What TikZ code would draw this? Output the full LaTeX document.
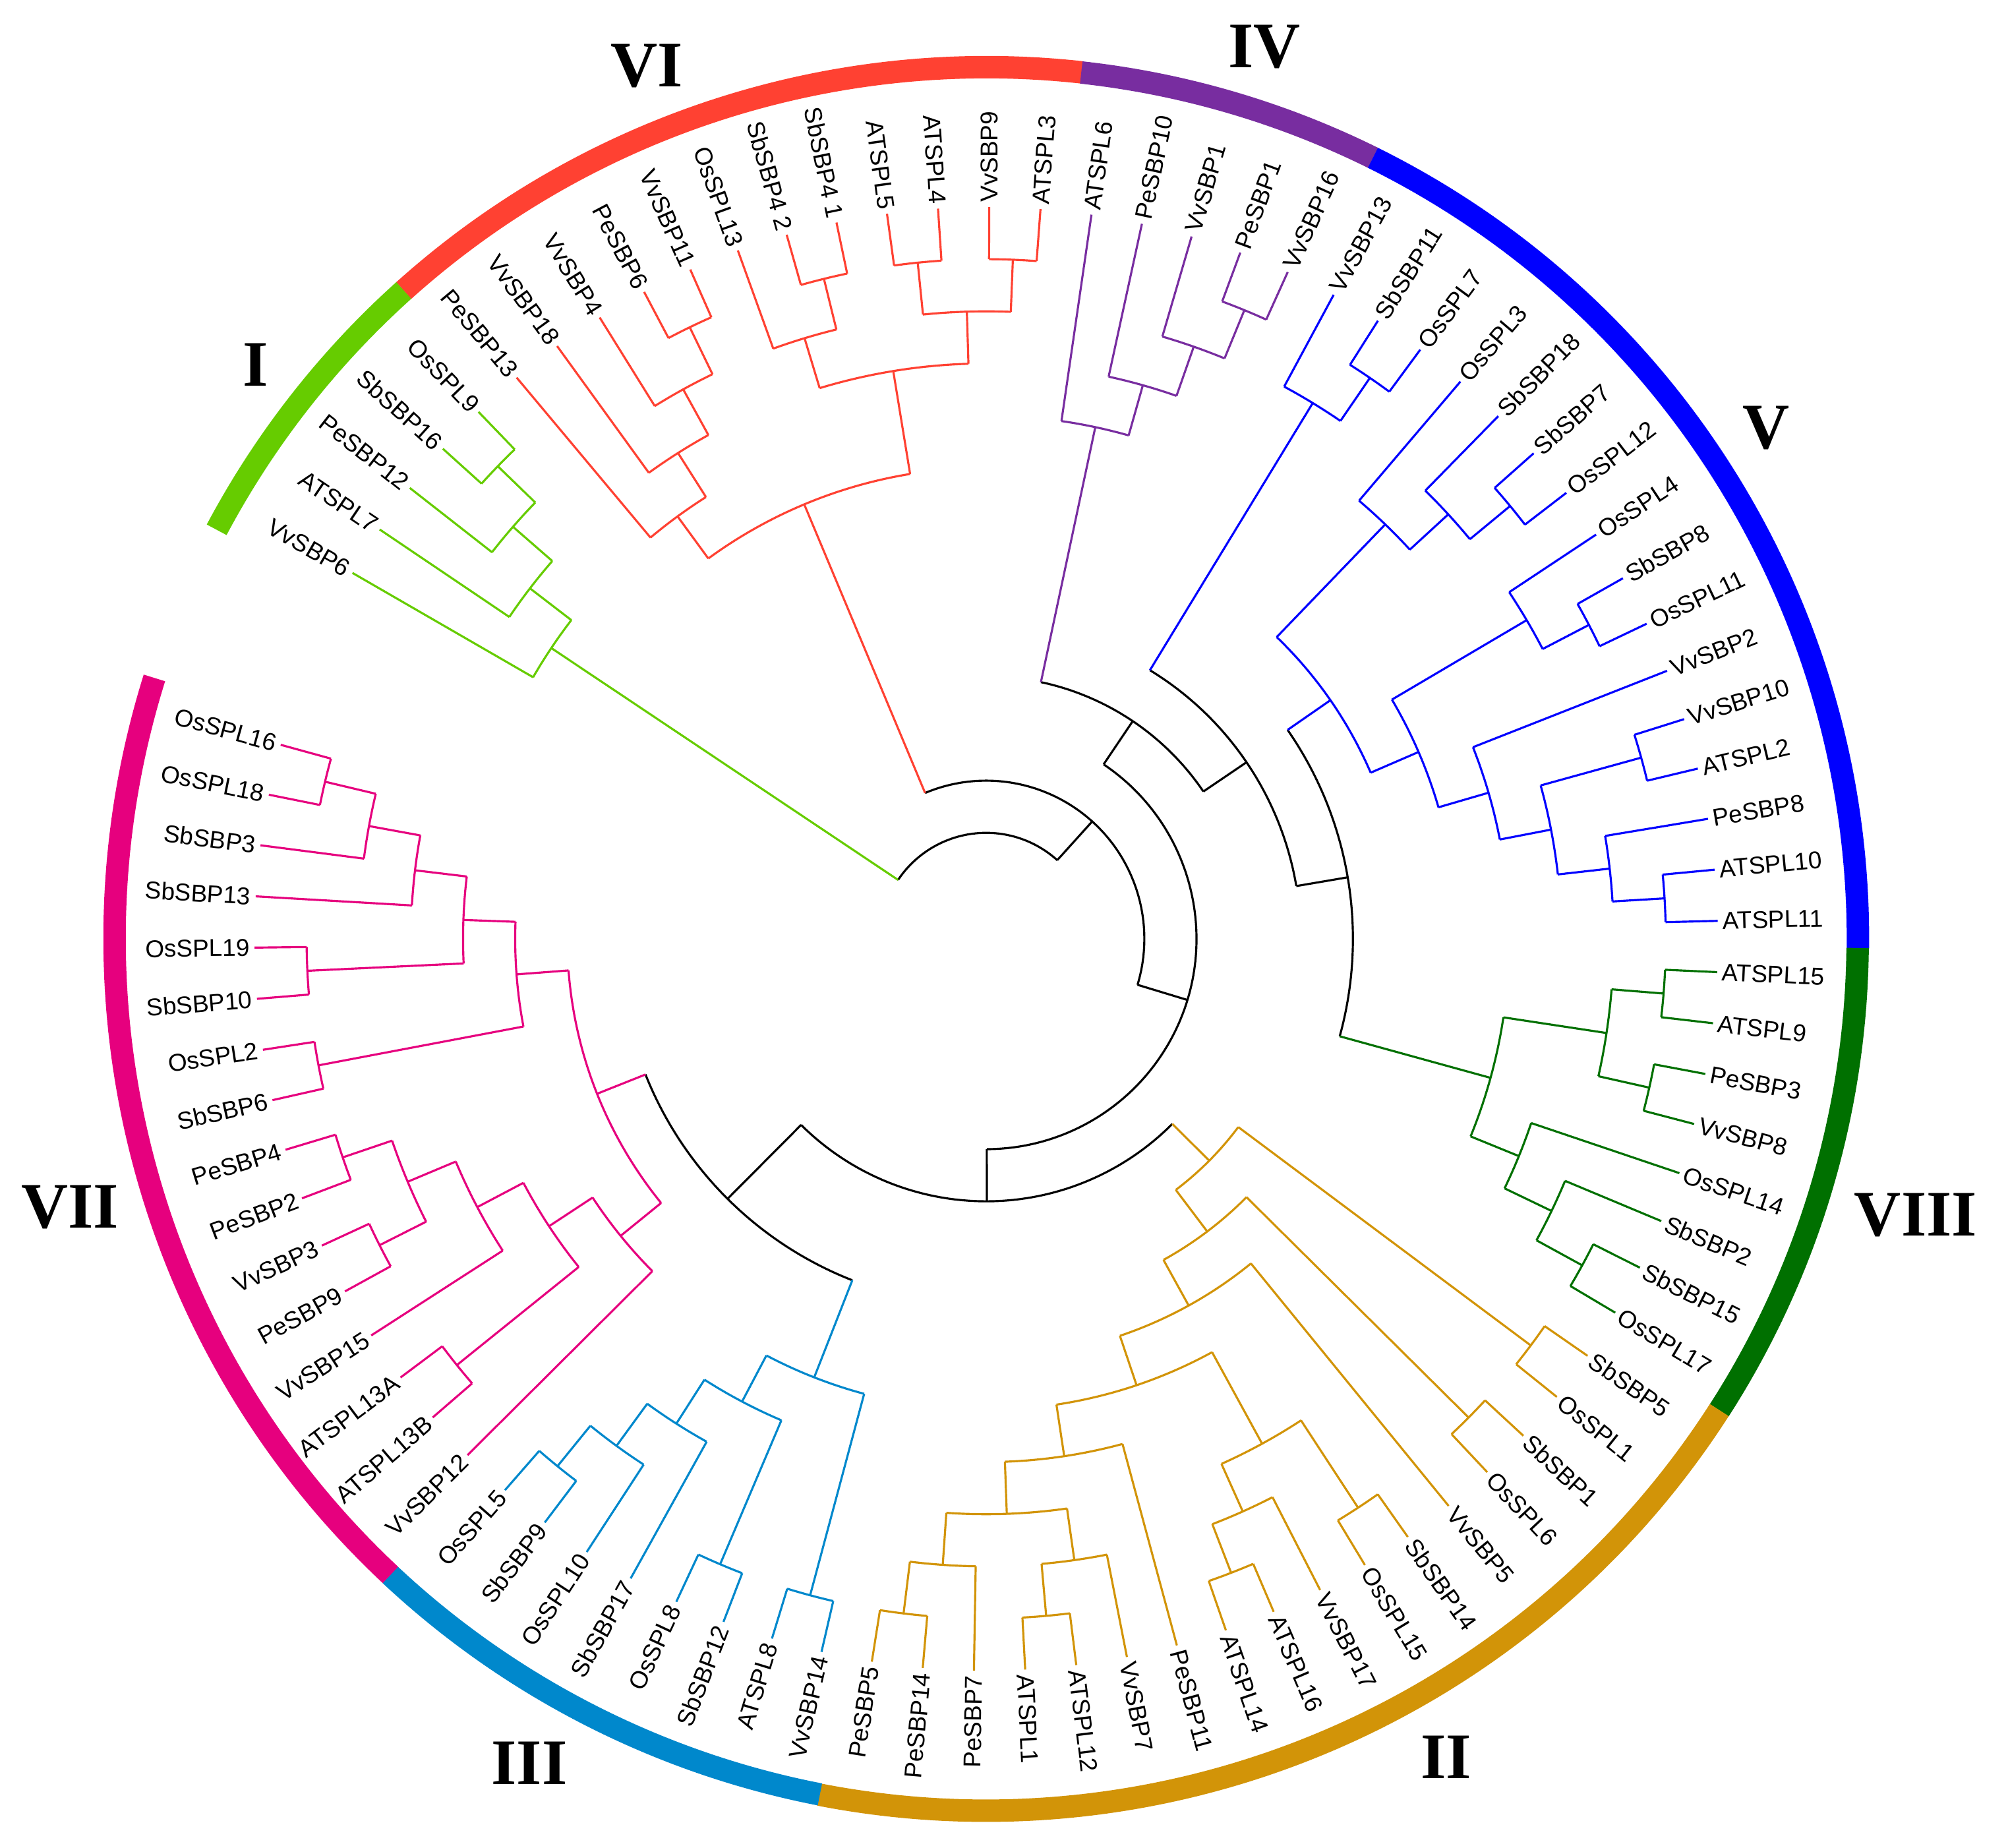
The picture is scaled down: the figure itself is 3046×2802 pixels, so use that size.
\documentclass[tikz,border=0pt]{standalone}
\usepackage{fontspec}
\setmainfont{Liberation Sans}
\newfontfamily\numfont{Liberation Serif}
\definecolor{cI}{RGB}{102,204,0}
\definecolor{cVI}{RGB}{255,65,50}
\definecolor{cIV}{RGB}{120,45,160}
\definecolor{cV}{RGB}{0,0,255}
\definecolor{cVIII}{RGB}{0,112,0}
\definecolor{cII}{RGB}{210,148,8}
\definecolor{cIII}{RGB}{0,136,204}
\definecolor{cVII}{RGB}{230,0,126}
\tikzset{
  tiplabel/.style={inner sep=0pt,font=\fontsize{10.5}{12}\selectfont},
  branch/.style={line width=0.9pt},
  ring/.style={line width=0.34cm},
  cladename/.style={inner sep=0pt,font=\numfont\bfseries\fontsize{28}{30}\selectfont}
}
\newcommand\tipr{1110}
\newcommand\labr{1117}
\newcommand\tstep{79.1}
% leaf: index, name, text, colour
\newcommand\tleafx[4]{%
  \pgfmathsetmacro\la{150-4.016*#1}%
  \expandafter\xdef\csname ang#2\endcsname{\la}%
  \expandafter\xdef\csname hgt#2\endcsname{0}%
  \expandafter\xdef\csname col#2\endcsname{#4}%
  \coordinate (#2) at (\la:\tipr);%
  \pgfmathtruncatemacro\rside{cos(\la)>0}%
  \ifnum\rside=1
    \node[tiplabel,anchor=west,rotate=\la] (#2-l) at (\la:\labr) {#3};%
  \else
    \pgfmathsetmacro\lb{\la+180}%
    \node[tiplabel,anchor=east,rotate=\lb] (#2-l) at (\la:\labr) {#3};%
  \fi}
\newcommand\tleaf[3]{\tleafx{#1}{#2}{#2}{#3}}
% inner node: name, first child, last child, colour
\newcommand\tclade[4]{%
  \edef\ca{\csname ang#2\endcsname}\edef\cb{\csname ang#3\endcsname}%
  \edef\ha{\csname hgt#2\endcsname}\edef\hb{\csname hgt#3\endcsname}%
  \edef\ka{\csname col#2\endcsname}\edef\kb{\csname col#3\endcsname}%
  \pgfmathtruncatemacro\nh{max(\ha,\hb)+1}%
  \pgfmathsetmacro\na{(\ca+\cb)/2}%
  \pgfmathsetmacro\nr{\tipr-\tstep*\nh}%
  \expandafter\xdef\csname ang#1\endcsname{\na}%
  \expandafter\xdef\csname hgt#1\endcsname{\nh}%
  \expandafter\xdef\csname col#1\endcsname{#4}%
  \coordinate (#1) at (\na:\nr);%
  \draw[branch,draw=#4] (\ca:\nr) arc[start angle=\ca,end angle=\cb,radius=\nr*0.01cm];%
  \draw[branch,draw=\ka] (\ca:\nr) -- (#2);%
  \draw[branch,draw=\kb] (\cb:\nr) -- (#3);}

\begin{document}
\begin{tikzpicture}[x=0.01cm,y=0.01cm]
\useasboundingbox (-1496,-1378) rectangle (1550,1424);

\foreach \s/\e/\c in {0/5/cI,5/17/cVI,17/22/cIV,22/38/cV,38/46/cVIII,46/63/cII,63/71/cIII,71/87/cVII}{
  \pgfmathsetmacro\ra{150-4.016*(\s-0.5)}
  \pgfmathsetmacro\rb{150-4.016*(\e-0.5)}
  \draw[ring,draw=\c] (\ra:1322) arc[start angle=\ra,end angle=\rb,radius=13.22cm];
}

\node[cladename] (lI) at (-1108,871) {I};
\node[cladename] (lVI) at (-515,1324) {VI};
\node[cladename] (lIV) at (422,1353) {IV};
\node[cladename] (lV) at (1183,775) {V};
\node[cladename] (lVIII) at (1410,-419) {VIII};
\node[cladename] (lII) at (698,-1241) {II};
\node[cladename] (lIII) at (-693,-1250) {III};
\node[cladename] (lVII) at (-1390,-407) {VII};

\tleaf{0}{VvSBP6}{cI} \tleaf{1}{ATSPL7}{cI} \tleaf{2}{PeSBP12}{cI}
\tleaf{3}{SbSBP16}{cI} \tleaf{4}{OsSPL9}{cI}

\tleaf{5}{PeSBP13}{cVI} \tleaf{6}{VvSBP18}{cVI} \tleaf{7}{VvSBP4}{cVI}
\tleaf{8}{PeSBP6}{cVI} \tleaf{9}{VvSBP11}{cVI} \tleaf{10}{OsSPL13}{cVI}
\tleafx{11}{SbSBP4-2}{SbSBP4 2}{cVI} \tleafx{12}{SbSBP4-1}{SbSBP4 1}{cVI}
\tleaf{13}{ATSPL5}{cVI} \tleaf{14}{ATSPL4}{cVI} \tleaf{15}{VvSBP9}{cVI}
\tleaf{16}{ATSPL3}{cVI}

\tleaf{17}{ATSPL6}{cIV} \tleaf{18}{PeSBP10}{cIV} \tleaf{19}{VvSBP1}{cIV}
\tleaf{20}{PeSBP1}{cIV} \tleaf{21}{VvSBP16}{cIV}

\tleaf{22}{VvSBP13}{cV} \tleaf{23}{SbSBP11}{cV} \tleaf{24}{OsSPL7}{cV}
\tleaf{25}{OsSPL3}{cV} \tleaf{26}{SbSBP18}{cV} \tleaf{27}{SbSBP7}{cV}
\tleaf{28}{OsSPL12}{cV} \tleaf{29}{OsSPL4}{cV} \tleaf{30}{SbSBP8}{cV}
\tleaf{31}{OsSPL11}{cV} \tleaf{32}{VvSBP2}{cV} \tleaf{33}{VvSBP10}{cV}
\tleaf{34}{ATSPL2}{cV} \tleaf{35}{PeSBP8}{cV} \tleaf{36}{ATSPL10}{cV}
\tleaf{37}{ATSPL11}{cV}

\tleaf{38}{ATSPL15}{cVIII} \tleaf{39}{ATSPL9}{cVIII} \tleaf{40}{PeSBP3}{cVIII}
\tleaf{41}{VvSBP8}{cVIII} \tleaf{42}{OsSPL14}{cVIII} \tleaf{43}{SbSBP2}{cVIII}
\tleaf{44}{SbSBP15}{cVIII} \tleaf{45}{OsSPL17}{cVIII}

\tleaf{46}{SbSBP5}{cII} \tleaf{47}{OsSPL1}{cII} \tleaf{48}{SbSBP1}{cII}
\tleaf{49}{OsSPL6}{cII} \tleaf{50}{VvSBP5}{cII} \tleaf{51}{SbSBP14}{cII}
\tleaf{52}{OsSPL15}{cII} \tleaf{53}{VvSBP17}{cII} \tleaf{54}{ATSPL16}{cII}
\tleaf{55}{ATSPL14}{cII} \tleaf{56}{PeSBP11}{cII} \tleaf{57}{VvSBP7}{cII}
\tleaf{58}{ATSPL12}{cII} \tleaf{59}{ATSPL1}{cII} \tleaf{60}{PeSBP7}{cII}
\tleaf{61}{PeSBP14}{cII} \tleaf{62}{PeSBP5}{cII}

\tleaf{63}{VvSBP14}{cIII} \tleaf{64}{ATSPL8}{cIII} \tleaf{65}{SbSBP12}{cIII}
\tleaf{66}{OsSPL8}{cIII} \tleaf{67}{SbSBP17}{cIII} \tleaf{68}{OsSPL10}{cIII}
\tleaf{69}{SbSBP9}{cIII} \tleaf{70}{OsSPL5}{cIII}

\tleaf{71}{VvSBP12}{cVII} \tleaf{72}{ATSPL13B}{cVII} \tleaf{73}{ATSPL13A}{cVII}
\tleaf{74}{VvSBP15}{cVII} \tleaf{75}{PeSBP9}{cVII} \tleaf{76}{VvSBP3}{cVII}
\tleaf{77}{PeSBP2}{cVII} \tleaf{78}{PeSBP4}{cVII} \tleaf{79}{SbSBP6}{cVII}
\tleaf{80}{OsSPL2}{cVII} \tleaf{81}{SbSBP10}{cVII} \tleaf{82}{OsSPL19}{cVII}
\tleaf{83}{SbSBP13}{cVII} \tleaf{84}{SbSBP3}{cVII} \tleaf{85}{OsSPL18}{cVII}
\tleaf{86}{OsSPL16}{cVII}

\tclade{I1}{SbSBP16}{OsSPL9}{cI}
\tclade{I2}{PeSBP12}{I1}{cI}
\tclade{I3}{ATSPL7}{I2}{cI}
\tclade{I4}{VvSBP6}{I3}{cI}

\tclade{V1}{PeSBP6}{VvSBP11}{cVI}
\tclade{V2}{VvSBP4}{V1}{cVI}
\tclade{V3}{VvSBP18}{V2}{cVI}
\tclade{V4}{PeSBP13}{V3}{cVI}
\tclade{V5}{SbSBP4-2}{SbSBP4-1}{cVI}
\tclade{V6}{OsSPL13}{V5}{cVI}
\tclade{V7}{ATSPL5}{ATSPL4}{cVI}
\tclade{V8}{VvSBP9}{ATSPL3}{cVI}
\tclade{V9}{V7}{V8}{cVI}
\tclade{V10}{V6}{V9}{cVI}
\tclade{V11}{V4}{V10}{cVI}

\tclade{W1}{PeSBP1}{VvSBP16}{cIV}
\tclade{W2}{VvSBP1}{W1}{cIV}
\tclade{W3}{PeSBP10}{W2}{cIV}
\tclade{W4}{ATSPL6}{W3}{cIV}

\tclade{Va1}{SbSBP11}{OsSPL7}{cV}
\tclade{Va2}{VvSBP13}{Va1}{cV}
\tclade{Vb1}{SbSBP7}{OsSPL12}{cV}
\tclade{Vb2}{SbSBP18}{Vb1}{cV}
\tclade{Vb3}{OsSPL3}{Vb2}{cV}
\tclade{Vb4}{SbSBP8}{OsSPL11}{cV}
\tclade{Vb5}{OsSPL4}{Vb4}{cV}
\tclade{Vb6}{VvSBP10}{ATSPL2}{cV}
\tclade{Vb7}{ATSPL10}{ATSPL11}{cV}
\tclade{Vb8}{PeSBP8}{Vb7}{cV}
\tclade{Vb9}{Vb6}{Vb8}{cV}
\tclade{Vb10}{VvSBP2}{Vb9}{cV}
\tclade{Vb11}{Vb5}{Vb10}{cV}
\tclade{Vb12}{Vb3}{Vb11}{cV}

\tclade{E1}{ATSPL15}{ATSPL9}{cVIII}
\tclade{E2}{PeSBP3}{VvSBP8}{cVIII}
\tclade{E3}{E1}{E2}{cVIII}
\tclade{E4}{SbSBP15}{OsSPL17}{cVIII}
\tclade{E5}{SbSBP2}{E4}{cVIII}
\tclade{E6}{OsSPL14}{E5}{cVIII}
\tclade{E7}{E3}{E6}{cVIII}

\tclade{T1}{SbSBP5}{OsSPL1}{cII}
\tclade{T2}{SbSBP1}{OsSPL6}{cII}
\tclade{T3}{SbSBP14}{OsSPL15}{cII}
\tclade{T4}{ATSPL16}{ATSPL14}{cII}
\tclade{T5}{VvSBP17}{T4}{cII}
\tclade{T6}{T3}{T5}{cII}
\tclade{T7}{ATSPL12}{ATSPL1}{cII}
\tclade{T8}{VvSBP7}{T7}{cII}
\tclade{T9}{PeSBP14}{PeSBP5}{cII}
\tclade{T10}{PeSBP7}{T9}{cII}
\tclade{T11}{T8}{T10}{cII}
\tclade{T12}{PeSBP11}{T11}{cII}
\tclade{T13}{T6}{T12}{cII}
\tclade{T14}{VvSBP5}{T13}{cII}
\tclade{T15}{T2}{T14}{cII}
\tclade{T16}{T1}{T15}{cII}

\tclade{H1}{VvSBP14}{ATSPL8}{cIII}
\tclade{H2}{SbSBP12}{OsSPL8}{cIII}
\tclade{H3}{SbSBP9}{OsSPL5}{cIII}
\tclade{H4}{OsSPL10}{H3}{cIII}
\tclade{H5}{SbSBP17}{H4}{cIII}
\tclade{H6}{H2}{H5}{cIII}
\tclade{H7}{H1}{H6}{cIII}

\tclade{S1}{OsSPL18}{OsSPL16}{cVII}
\tclade{S2}{SbSBP3}{S1}{cVII}
\tclade{S3}{SbSBP13}{S2}{cVII}
\tclade{S4}{SbSBP10}{OsSPL19}{cVII}
\tclade{S5}{S4}{S3}{cVII}
\tclade{S6}{SbSBP6}{OsSPL2}{cVII}
\tclade{S7}{S6}{S5}{cVII}
\tclade{S8}{PeSBP2}{PeSBP4}{cVII}
\tclade{S9}{PeSBP9}{VvSBP3}{cVII}
\tclade{S10}{S9}{S8}{cVII}
\tclade{S11}{VvSBP15}{S10}{cVII}
\tclade{S12}{ATSPL13B}{ATSPL13A}{cVII}
\tclade{S13}{S12}{S11}{cVII}
\tclade{S14}{VvSBP12}{S13}{cVII}
\tclade{S15}{S14}{S7}{cVII}

\tclade{bC}{Vb12}{E7}{black}
\tclade{bB}{Va2}{bC}{black}
\tclade{bA}{W4}{bB}{black}
\tclade{bS}{S15}{H7}{black}
\tclade{bQ}{bS}{T16}{black}
\tclade{bP}{bA}{bQ}{black}
\tclade{bX}{V11}{bP}{black}
\tclade{bR}{I4}{bX}{black}
\end{tikzpicture}
\end{document}
